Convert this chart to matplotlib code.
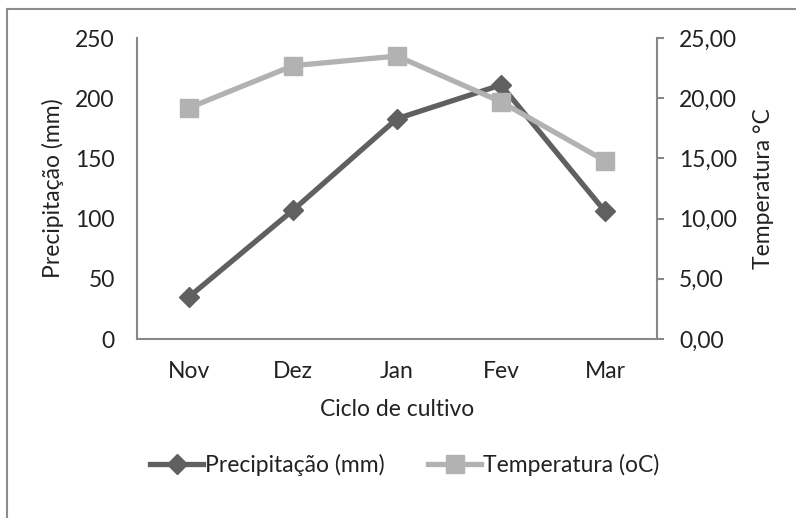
import matplotlib.pyplot as plt
from matplotlib.lines import Line2D
from matplotlib.ticker import FuncFormatter

plt.rcParams['font.family'] = ['Lato', 'DejaVu Sans']

meses = ['Nov', 'Dez', 'Jan', 'Fev', 'Mar']
precipitacao = [35, 107, 183, 211, 106]
temperatura = [19.2, 22.7, 23.5, 19.7, 14.8]

cor_prec = '#606060'
cor_temp = '#b2b2b2'
cor_eixo = '#888888'
cor_texto = '#222222'
fs = 16.5

fig = plt.figure(figsize=(7.96, 5.18), dpi=100)
ax = fig.add_axes([137 / 796, 1 - 339 / 518, 520 / 796, 301 / 518])
ax2 = ax.twinx()

x = list(range(len(meses)))
ax.plot(x, precipitacao, color=cor_prec, lw=3.8, marker='D', ms=10,
        label='Precipitação (mm)')
ax2.plot(x, temperatura, color=cor_temp, lw=3.8, marker='s', ms=13,
         label='Temperatura (oC)')

ax.set_xlim(-0.5, 4.5)
ax.set_ylim(0, 250)
ax2.set_ylim(0, 25)
ax.set_yticks(range(0, 251, 50))
ax2.set_yticks(range(0, 26, 5))
ax2.yaxis.set_major_formatter(FuncFormatter(lambda v, p: f'{v:.2f}'.replace('.', ',')))
ax.set_xticks(x)
ax.set_xticklabels(meses)

for a in (ax, ax2):
    for s in a.spines.values():
        s.set_visible(False)
    a.patch.set_visible(False)

ax.spines['left'].set_visible(True)
ax.spines['bottom'].set_visible(True)
ax2.spines['right'].set_visible(True)
for s in (ax.spines['left'], ax.spines['bottom'], ax2.spines['right']):
    s.set_color(cor_eixo)
    s.set_linewidth(1.5)

ax.tick_params(axis='y', length=0, pad=16, labelsize=fs, labelcolor=cor_texto)
ax.tick_params(axis='x', length=0, pad=16, labelsize=fs, labelcolor=cor_texto)
ax2.tick_params(axis='y', length=5, width=1.5, color=cor_eixo, pad=11,
                labelsize=fs, labelcolor=cor_texto)

ax.set_ylabel('Precipitação (mm)', fontsize=fs, color=cor_texto, labelpad=8)
ax2.set_ylabel('Temperatura °C', fontsize=fs, color=cor_texto, labelpad=11)
ax.set_xlabel('Ciclo de cultivo', fontsize=fs, color=cor_texto, labelpad=12)

h1, l1 = ax.get_legend_handles_labels()
h2, l2 = ax2.get_legend_handles_labels()
fig.legend(h1 + h2, l1 + l2, loc='center', bbox_to_anchor=(405 / 796, 1 - 465 / 518),
           ncol=2, frameon=False, fontsize=fs, handlelength=2.3, handletextpad=0.1,
           columnspacing=1.9, labelcolor=cor_texto)

# moldura (apenas esquerda e topo)
fig.add_artist(Line2D([7 / 796, 7 / 796], [0, 1 - 9 / 518], transform=fig.transFigure,
                      color='#8c8c8c', lw=1.5))
fig.add_artist(Line2D([7 / 796, 1], [1 - 9 / 518, 1 - 9 / 518], transform=fig.transFigure,
                      color='#8c8c8c', lw=1.5))

fig.savefig('out.png', dpi=100, facecolor='white')
